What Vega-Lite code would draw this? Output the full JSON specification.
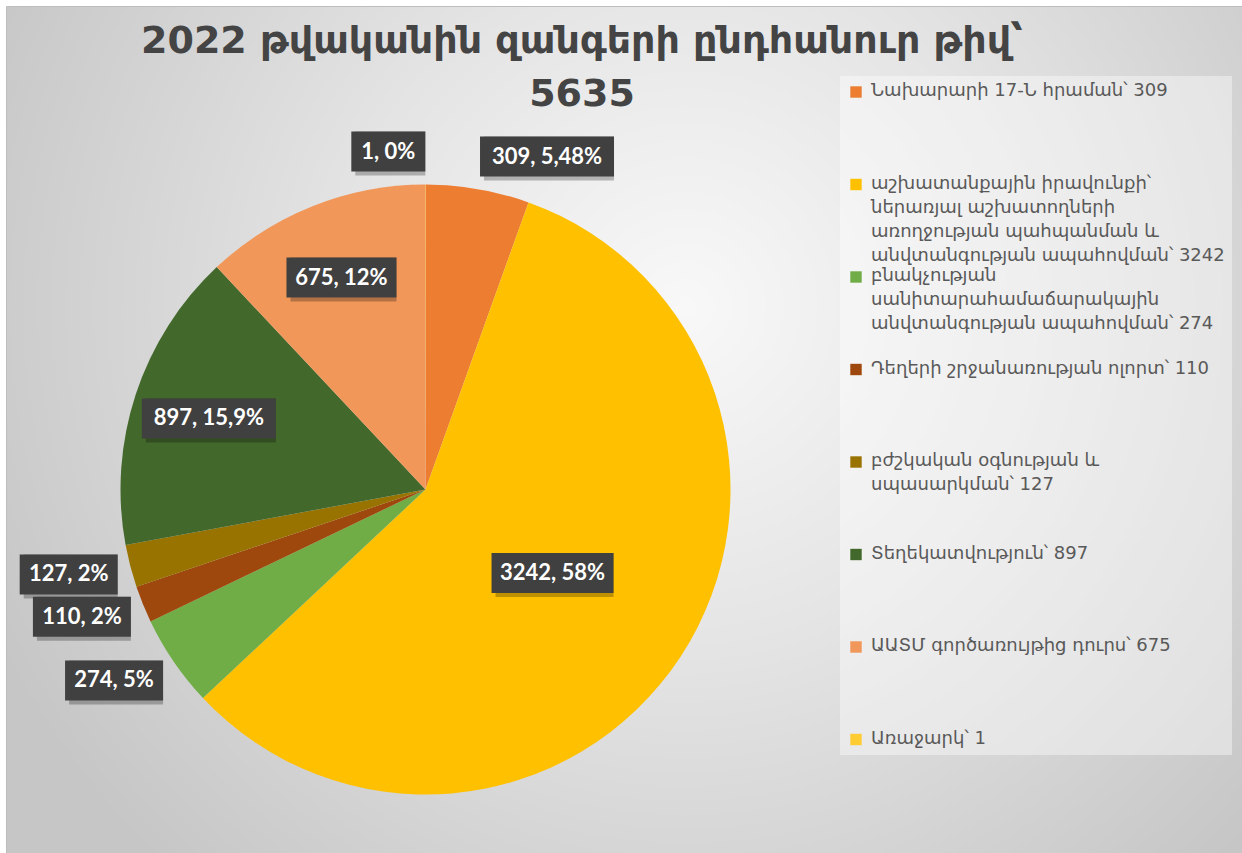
{
  "$schema": "https://vega.github.io/schema/vega-lite/v6.json",
  "width": 1236,
  "height": 847,
  "autosize": {"type": "none"},
  "padding": {"left": 6, "top": 6, "right": 0, "bottom": 0},
  "background": "#ffffff",
  "config": {
    "view": {
      "fill": {"gradient": "radial", "x1": 0.55, "y1": 0.4, "r1": 0, "x2": 0.55, "y2": 0.4, "r2": 0.62,
        "stops": [{"offset": 0, "color": "#f8f8f8"}, {"offset": 0.45, "color": "#e4e4e4"}, {"offset": 1, "color": "#c6c6c6"}]},
      "stroke": "#bdbdbd",
      "strokeWidth": 1
    }
  },
  "title": {
    "text": ["2022 թվականին զանգերի ընդհանուր թիվ՝", "5635"],
    "font": "DejaVu Sans",
    "fontSize": 38,
    "fontWeight": "bold",
    "color": "#444444",
    "anchor": "middle",
    "frame": "group",
    "dx": -42,
    "offset": -108,
    "baseline": "top",
    "lineHeight": 53
  },
  "data": {
    "values": [
      {"order": 1, "name": "Նախարարի 17-Ն հրաման՝ 309", "value": 309, "pct": "5,48%"},
      {"order": 2, "name": "աշխատանքային իրավունքի՝\nներառյալ աշխատողների\nառողջության պահպանման և\nանվտանգության ապահովման՝ 3242", "value": 3242, "pct": "58%"},
      {"order": 3, "name": "բնակչության\nսանիտարահամաճարակային\nանվտանգության ապահովման՝ 274", "value": 274, "pct": "5%"},
      {"order": 4, "name": "Դեղերի շրջանառության  ոլորտ՝ 110", "value": 110, "pct": "2%"},
      {"order": 5, "name": " բժշկական օգնության և\nսպասարկման՝ 127", "value": 127, "pct": "2%"},
      {"order": 6, "name": "Տեղեկատվություն՝ 897", "value": 897, "pct": "15,9%"},
      {"order": 7, "name": "ԱԱՏՄ գործառույթից դուրս՝ 675", "value": 675, "pct": "12%"},
      {"order": 8, "name": "Առաջարկ՝ 1", "value": 1, "pct": "0%"}
    ]
  },
  "transform": [
    {"window": [{"op": "sum", "field": "value", "as": "cum"}], "sort": [{"field": "order"}], "frame": [null, 0]},
    {"joinaggregate": [{"op": "sum", "field": "value", "as": "total"}]},
    {"calculate": "(datum.cum - datum.value/2)/datum.total*2*PI", "as": "mid"},
    {"calculate": "datum.value/datum.total", "as": "frac"},
    {"calculate": "datum.value + ', ' + datum.pct", "as": "label"},
    {"calculate": "12*length(datum.label)+14", "as": "bw"},
    {"calculate": "datum.frac >= 0.1", "as": "inside"},
    {"calculate": "datum.inside ? (datum.frac > 0.5 ? 152 : 228) : 318", "as": "r"},
    {"calculate": "datum.r*sin(datum.mid) + (datum.inside ? 0 : (sin(datum.mid) >= 0 ? 1 : -1)*datum.bw/2)", "as": "bx"},
    {"calculate": "(datum.r + (datum.inside ? 0 : 20))*cos(datum.mid)", "as": "by"},
    {"calculate": "datum.bx - datum.bw/2", "as": "bx1"},
    {"calculate": "datum.bx + datum.bw/2", "as": "bx2"},
    {"calculate": "datum.by - 20", "as": "by1"},
    {"calculate": "datum.by + 20", "as": "by2"}
  ],
  "layer": [
    {
      "mark": {"type": "arc", "outerRadius": 305},
      "encoding": {
        "theta": {"field": "value", "type": "quantitative", "stack": true},
        "order": {"field": "order", "type": "quantitative"},
        "x": {"datum": 0, "type": "quantitative", "scale": {"domain": [-419.5, 816.5], "nice": false, "zero": false}, "axis": null},
        "y": {"datum": 0, "type": "quantitative", "scale": {"domain": [-363.5, 483.5], "nice": false, "zero": false}, "axis": null},
        "color": {
          "field": "name",
          "type": "nominal",
          "sort": {"field": "order", "op": "min"},
          "scale": {"range": ["#ED7D31", "#FFC000", "#70AD47", "#9E480E", "#997300", "#43682B", "#F1975A", "#FFCD33"]},
          "legend": {
            "orient": "none",
            "legendX": 834,
            "legendY": 70,
            "title": null,
            "symbolType": "square",
            "symbolSize": 130,
            "symbolStrokeWidth": 0,
            "labelFont": "DejaVu Sans",
            "labelFontSize": 18,
            "labelColor": "#595959",
            "labelBaseline": "top",
            "labelOffset": 6,
            "labelLimit": 420,
            "labelExpr": "split(datum.label, '\\n')",
            "gridAlign": "all",
            "rowPadding": 2.5,
            "padding": 7,
            "fillColor": "rgba(255,255,255,0.4)",
            "encode": {"labels": {"update": {"dy": {"value": -10}, "lineHeight": {"value": 24}}}}
          }
        }
      }
    },
    {
      "mark": {"type": "rect", "fill": "#000000", "opacity": 0.25, "xOffset": 4, "yOffset": 4},
      "encoding": {
        "x": {"field": "bx1", "type": "quantitative", "scale": {"domain": [-419.5, 816.5], "nice": false, "zero": false}, "axis": null},
        "x2": {"field": "bx2"},
        "y": {"field": "by1", "type": "quantitative", "scale": {"domain": [-363.5, 483.5], "nice": false, "zero": false}, "axis": null},
        "y2": {"field": "by2"}
      }
    },
    {
      "mark": {"type": "rect", "fill": "#404040"},
      "encoding": {
        "x": {"field": "bx1", "type": "quantitative", "scale": {"domain": [-419.5, 816.5], "nice": false, "zero": false}, "axis": null},
        "x2": {"field": "bx2"},
        "y": {"field": "by1", "type": "quantitative", "scale": {"domain": [-363.5, 483.5], "nice": false, "zero": false}, "axis": null},
        "y2": {"field": "by2"}
      }
    },
    {
      "mark": {"type": "text", "font": "Lato", "fontWeight": "bold", "fontSize": 22, "color": "#ffffff", "align": "center", "baseline": "middle"},
      "encoding": {
        "x": {"field": "bx", "type": "quantitative", "scale": {"domain": [-419.5, 816.5], "nice": false, "zero": false}, "axis": null},
        "y": {"field": "by", "type": "quantitative", "scale": {"domain": [-363.5, 483.5], "nice": false, "zero": false}, "axis": null},
        "text": {"field": "label"}
      }
    }
  ]
}
